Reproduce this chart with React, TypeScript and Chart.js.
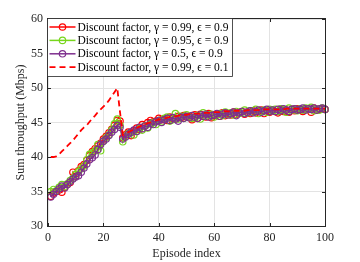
import React, { useEffect, useRef } from "react";
import { Chart, registerables } from "chart.js";

Chart.register(...registerables);

const episodes: number[] = Array.from({ length: 100 }, (_, i) => i + 1);

const seriesLabels: string[] = [
  "Discount factor, γ = 0.99, ϵ = 0.9",
  "Discount factor, γ = 0.95, ϵ = 0.9",
  "Discount factor, γ = 0.5, ϵ = 0.9",
  "Discount factor, γ = 0.99, ϵ = 0.1",
];

const gamma099eps09: number[] = [
  34.3, 34.8, 35.0, 35.2, 34.9, 35.6, 36.0, 36.3, 37.8, 37.2,
  38.0, 38.6, 38.9, 39.5, 40.2, 40.8, 41.2, 41.6, 42.0, 42.6,
  43.0, 43.5, 44.0, 44.6, 45.3, 45.2, 42.8, 43.2, 43.6, 43.1,
  43.8, 44.2, 44.0, 44.7, 44.5, 45.0, 45.3, 45.1, 45.2, 45.6,
  45.4, 45.5, 45.3, 45.8, 45.6, 45.5, 45.9, 45.7, 46.0, 45.8,
  45.9, 45.4, 46.1, 45.6, 46.2, 45.9, 45.8, 46.3, 45.7, 46.0,
  46.2, 45.9, 46.4, 46.0, 46.3, 46.1, 46.5, 46.2, 46.4, 46.6,
  46.2, 46.5, 46.3, 46.7, 46.4, 46.6, 46.8, 46.3, 46.7, 46.5,
  46.8, 46.6, 46.4, 46.9, 46.6, 46.8, 46.5, 46.9, 46.7, 47.0,
  46.8, 46.6, 47.0, 46.9, 46.5, 47.1, 46.8, 46.9, 47.0, 46.9,
];

const gamma095eps09: number[] = [
  35.0, 35.3, 35.1, 35.6, 36.0, 35.7, 36.1, 36.6, 36.9, 37.5,
  37.9, 38.3, 38.7, 39.6, 40.4, 40.6, 40.9, 41.8, 40.9, 42.3,
  42.8, 43.2, 43.9, 44.8, 45.5, 44.6, 42.2, 43.0, 43.4, 43.5,
  43.2, 43.7, 44.1, 43.9, 44.5, 44.2, 44.8, 45.0, 44.7, 45.3,
  45.1, 45.6, 45.8, 45.2, 45.4, 46.3, 45.5, 45.9, 45.6, 46.1,
  45.8, 45.6, 45.7, 46.0, 45.5, 46.4, 45.9, 46.1, 46.2, 45.8,
  46.1, 46.3, 46.0, 46.5, 46.2, 46.4, 46.1, 46.6, 46.3, 46.5,
  46.8, 46.4, 46.7, 46.5, 46.9, 46.3, 46.6, 46.8, 46.5, 46.9,
  46.7, 46.9, 46.6, 47.0, 46.8, 46.5, 47.1, 46.8, 46.9, 46.7,
  47.0, 46.8, 47.1, 46.9, 47.2, 46.7, 47.0, 46.8, 47.1, 46.9,
];

const gamma05eps09: number[] = [
  34.2, 34.6, 35.0, 35.4, 35.8, 35.5, 36.0, 36.4, 36.8, 37.1,
  37.3, 37.8, 38.4, 39.0, 39.6, 39.9, 40.3, 41.1, 41.8, 42.3,
  42.6, 43.1, 43.6, 44.0, 44.6, 44.3, 42.6, 42.9, 43.3, 43.6,
  43.9, 43.7, 44.3, 44.1, 44.5, 44.3, 44.9, 44.7, 45.1, 45.3,
  45.0, 45.4, 45.6, 45.3, 45.7, 45.5, 45.2, 45.8, 45.6, 45.9,
  45.7, 46.0, 45.8, 45.6, 46.1, 45.9, 46.2, 45.8, 46.0, 46.1,
  46.3, 45.9, 46.2, 46.4, 46.1, 46.3, 46.5, 46.0, 46.4, 46.6,
  46.3, 46.5, 46.7, 46.4, 46.6, 46.8, 46.5, 46.7, 46.9, 46.6,
  46.8, 46.6, 46.9, 46.7, 47.0, 46.8, 46.6, 46.9, 47.0, 46.8,
  46.9, 47.1, 46.8, 47.0, 46.9, 47.1, 46.8, 47.0, 47.1, 46.9,
];

const gamma099eps01: number[] = [
  40.0, 40.0, 40.1, 40.4, 40.8, 41.2, 41.6, 42.0, 42.4, 42.9,
  43.4, 43.9, 44.3, 44.6, 45.1, 45.6, 46.0, 46.5, 46.9, 47.3,
  47.7, 48.2, 48.8, 49.4, 50.0, 46.5, 43.2, 43.4, 43.6, 43.8,
  44.0, 44.2, 44.4, 44.6, 44.7, 44.9, 45.0, 45.2, 45.3, 45.4,
  45.5, 45.6, 45.7, 45.8, 45.8, 45.9, 46.0, 46.0, 46.1, 46.1,
  46.2, 46.2, 46.3, 46.3, 46.3, 46.4, 46.4, 46.4, 46.5, 46.5,
  46.5, 46.5, 46.6, 46.6, 46.6, 46.6, 46.7, 46.7, 46.7, 46.7,
  46.7, 46.8, 46.8, 46.8, 46.8, 46.8, 46.8, 46.9, 46.9, 46.9,
  46.9, 46.9, 46.9, 46.9, 46.9, 47.0, 47.0, 47.0, 47.0, 47.0,
  47.0, 47.0, 47.0, 47.0, 47.0, 47.0, 47.0, 47.0, 47.0, 47.0,
];

const xTicks: number[] = [0, 20, 40, 60, 80, 100];
const yTicks: number[] = [30, 35, 40, 45, 50, 55, 60];

const RED = "#ff0000";
const GREEN = "#77d61c";
const PURPLE = "#7e2f8e";
const AXIS = "#262626";
const FONT = "'Liberation Serif', 'Times New Roman', serif";

const toPoints = (ys: number[]) => episodes.map((x, i) => ({ x, y: ys[i] }));

const decorPlugin = {
  id: "matlabDecor",
  afterDatasetsDraw(chart: any) {
    const { ctx, chartArea: ca, scales } = chart;
    const xs = scales.x;
    const ys = scales.y;
    ctx.save();
    // box
    ctx.strokeStyle = AXIS;
    ctx.lineWidth = 1;
    ctx.strokeRect(Math.round(ca.left) - 0.5, Math.round(ca.top) - 0.5, Math.round(ca.right - ca.left) + 1, Math.round(ca.bottom - ca.top) + 1);
    // inward ticks
    const tl = 3;
    ctx.beginPath();
    yTicks.forEach((v) => {
      const py = Math.round(ys.getPixelForValue(v)) + 0.5;
      ctx.moveTo(ca.left, py);
      ctx.lineTo(ca.left + tl, py);
      ctx.moveTo(ca.right, py);
      ctx.lineTo(ca.right - tl, py);
    });
    xTicks.forEach((v) => {
      const px = Math.round(xs.getPixelForValue(v)) + 0.5;
      ctx.moveTo(px, ca.bottom);
      ctx.lineTo(px, ca.bottom - tl);
      ctx.moveTo(px, ca.top);
      ctx.lineTo(px, ca.top + tl);
    });
    ctx.stroke();

    // legend
    const bx = Math.round(ca.left) - 0.5;
    const by = Math.round(ca.top) - 0.5;
    const bw = 185;
    const bh = 58;
    ctx.fillStyle = "#ffffff";
    ctx.fillRect(bx, by, bw, bh);
    ctx.strokeStyle = AXIS;
    ctx.lineWidth = 0.8;
    ctx.strokeRect(bx, by, bw, bh);
    const datasets = chart.data.datasets;
    ctx.font = `11.5px ${FONT}`;
    ctx.textBaseline = "middle";
    ctx.textAlign = "left";
    for (let i = 0; i < seriesLabels.length; i++) {
      const ds = datasets[i];
      const ry = by + 8.5 + i * 13.4;
      const x0 = bx + 2;
      const x1 = bx + 28;
      ctx.strokeStyle = ds.borderColor;
      ctx.lineWidth = ds.borderWidth;
      ctx.setLineDash(ds.borderDash || []);
      ctx.beginPath();
      ctx.moveTo(x0, ry);
      ctx.lineTo(x1, ry);
      ctx.stroke();
      ctx.setLineDash([]);
      if (ds.pointRadius > 0) {
        ctx.lineWidth = ds.pointBorderWidth;
        ctx.beginPath();
        ctx.arc((x0 + x1) / 2, ry, ds.pointRadius, 0, Math.PI * 2);
        ctx.stroke();
      }
      ctx.fillStyle = "#000000";
      ctx.fillText(seriesLabels[i], bx + 30, ry + 0.5);
    }
    ctx.restore();
  },
};

export default function App() {
  const ref = useRef<HTMLCanvasElement | null>(null);
  useEffect(() => {
    if (!ref.current) return;
    const markerDs = (label: string, data: number[], color: string, order: number) => ({
      label,
      data: toPoints(data),
      borderColor: color,
      backgroundColor: "rgba(0,0,0,0)",
      borderWidth: 1.5,
      pointRadius: 3.2,
      pointBorderWidth: 1.2,
      pointBackgroundColor: "rgba(0,0,0,0)",
      pointBorderColor: color,
      pointStyle: "circle",
      order,
      clip: 8,
    });
    const chart = new Chart(ref.current, {
      type: "line",
      data: {
        datasets: [
          markerDs(seriesLabels[0], gamma099eps09, RED, 3),
          markerDs(seriesLabels[1], gamma095eps09, GREEN, 2),
          markerDs(seriesLabels[2], gamma05eps09, PURPLE, 1),
          {
            label: seriesLabels[3],
            data: toPoints(gamma099eps01),
            borderColor: RED,
            backgroundColor: "rgba(0,0,0,0)",
            borderWidth: 1.8,
            borderDash: [6, 4],
            pointRadius: 0,
            pointBorderWidth: 0,
            order: 0,
            clip: 8,
          } as any,
        ],
      },
      options: {
        animation: false,
        responsive: true,
        maintainAspectRatio: false,
        layout: { padding: { top: 19, right: 35, left: 0, bottom: 0 } },
        plugins: { legend: { display: false }, tooltip: { enabled: false } },
        scales: {
          x: {
            type: "linear",
            min: 0,
            max: 100,
            afterFit: (s: any) => {
              s.height = 36;
            },
            afterBuildTicks: (s: any) => {
              s.ticks = xTicks.map((v) => ({ value: v }));
            },
            ticks: {
              font: { family: FONT, size: 12 },
              color: AXIS,
              padding: 5,
              maxRotation: 0,
            },
            grid: { color: "#e3e3e3", drawTicks: false, lineWidth: 1 },
            border: { display: false },
            title: {
              display: true,
              text: "Episode index",
              font: { family: FONT, size: 12 },
              color: AXIS,
              padding: { top: 0, bottom: 1 },
            },
          },
          y: {
            type: "linear",
            min: 30,
            max: 60,
            afterFit: (s: any) => {
              s.width = 48;
            },
            afterBuildTicks: (s: any) => {
              s.ticks = yTicks.map((v) => ({ value: v }));
            },
            ticks: {
              font: { family: FONT, size: 12 },
              color: AXIS,
              padding: 5,
            },
            grid: { color: "#e3e3e3", drawTicks: false, lineWidth: 1 },
            border: { display: false },
            title: {
              display: true,
              text: "Sum throughput (Mbps)",
              font: { family: FONT, size: 12 },
              color: AXIS,
              padding: { top: 14, bottom: 0 },
            },
          },
        },
      },
      plugins: [decorPlugin],
    });
    return () => chart.destroy();
  }, []);
  return (
    <div style={{ position: "absolute", left: 0, top: 0, width: 360, height: 262, background: "#fff" }}>
      <canvas ref={ref} />
    </div>
  );
}
